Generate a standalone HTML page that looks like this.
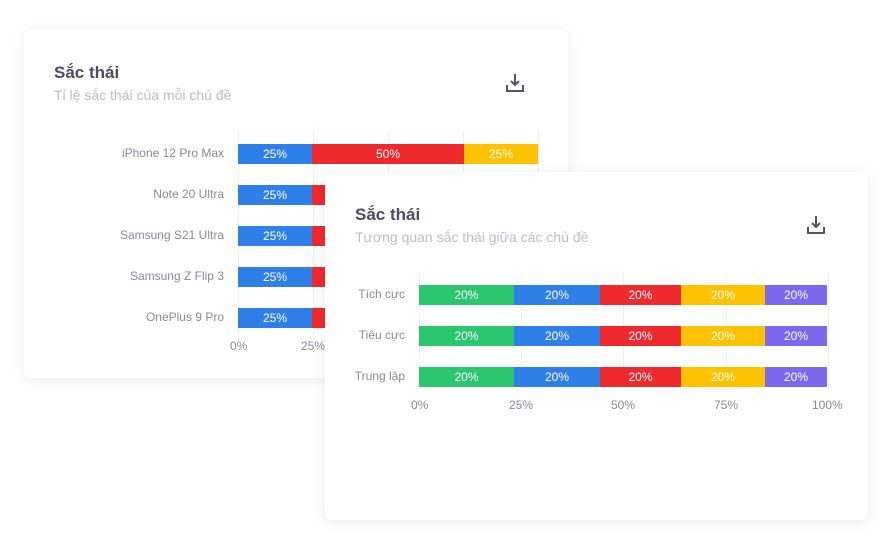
<!DOCTYPE html>
<html><head><meta charset="utf-8"><style>
body{margin:0;width:893px;height:550px;background:#fff;position:relative;overflow:hidden;font-family:"Liberation Sans",sans-serif}
.card{position:absolute;background:#fff;border-radius:6px;box-shadow:0 2px 14px rgba(0,0,0,0.08)}
.t{position:absolute;font-size:17px;font-weight:bold;color:#4d4a63}
.s{position:absolute;font-size:14px;color:#bdbcc8}
.a{position:absolute;font-size:12px;color:#8a8996;white-space:nowrap}
.seg{position:absolute;height:20px;color:#fff;font-size:12px;line-height:20px;text-align:center}
.g{position:absolute;width:1px;background:#eeeef0}
</style></head><body>
<div class="card" style="left:24px;top:30px;width:544px;height:348px"></div>
<div class="t" style="left:54px;top:63px">Sắc thái</div>
<div class="s" style="left:54px;top:87px">Tỉ lệ sắc thái của mỗi chủ đề</div>
<svg style="position:absolute;left:505px;top:73px" width="20" height="20" viewBox="0 0 20 20" fill="none" stroke="#55536a" stroke-width="2"><path d="M10 1v11M6 8l4 4 4-4M2 12v6h16v-6"/></svg>
<div class="g" style="left:238px;top:132px;height:202px"></div>
<div class="g" style="left:313px;top:132px;height:202px"></div>
<div class="g" style="left:388px;top:132px;height:202px"></div>
<div class="g" style="left:463px;top:132px;height:202px"></div>
<div class="g" style="left:538px;top:132px;height:202px"></div>
<div class="a" style="right:669px;top:146px">iPhone 12 Pro Max</div>
<div class="a" style="right:669px;top:187px">Note 20 Ultra</div>
<div class="a" style="right:669px;top:228px">Samsung S21 Ultra</div>
<div class="a" style="right:669px;top:269px">Samsung Z Flip 3</div>
<div class="a" style="right:669px;top:310px">OnePlus 9 Pro</div>
<div class="seg" style="left:238px;top:144px;width:74px;background:#2f7fe8">25%</div>
<div class="seg" style="left:312px;top:144px;width:152px;background:#ee2a2e">50%</div>
<div class="seg" style="left:464px;top:144px;width:74px;background:#fec200">25%</div>
<div class="seg" style="left:238px;top:185px;width:74px;background:#2f7fe8">25%</div>
<div class="seg" style="left:312px;top:185px;width:30px;background:#ee2a2e"></div>
<div class="seg" style="left:238px;top:226px;width:74px;background:#2f7fe8">25%</div>
<div class="seg" style="left:312px;top:226px;width:30px;background:#ee2a2e"></div>
<div class="seg" style="left:238px;top:267px;width:74px;background:#2f7fe8">25%</div>
<div class="seg" style="left:312px;top:267px;width:30px;background:#ee2a2e"></div>
<div class="seg" style="left:238px;top:308px;width:74px;background:#2f7fe8">25%</div>
<div class="seg" style="left:312px;top:308px;width:30px;background:#ee2a2e"></div>
<div class="a" style="left:230px;top:339px">0%</div>
<div class="a" style="left:301px;top:339px">25%</div>

<div class="card" style="left:325px;top:172px;width:543px;height:348px"></div>
<div class="t" style="left:355px;top:205px">Sắc thái</div>
<div class="s" style="left:355px;top:229px">Tương quan sắc thái giữa các chủ đề</div>
<svg style="position:absolute;left:806px;top:215px" width="20" height="20" viewBox="0 0 20 20" fill="none" stroke="#55536a" stroke-width="2"><path d="M10 1v11M6 8l4 4 4-4M2 12v6h16v-6"/></svg>
<div class="g" style="left:419px;top:273px;height:116px"></div>
<div class="g" style="left:521px;top:273px;height:116px"></div>
<div class="g" style="left:623px;top:273px;height:116px"></div>
<div class="g" style="left:726px;top:273px;height:116px"></div>
<div class="g" style="left:828px;top:273px;height:116px"></div>
<div class="a" style="right:488px;top:287px">Tích cực</div>
<div class="a" style="right:488px;top:328px">Tiêu cực</div>
<div class="a" style="right:488px;top:369px">Trung lập</div>
<div style="position:absolute;left:0;top:285px">
<div class="seg" style="left:419px;width:95px;background:#2bc76f">20%</div><div class="seg" style="left:514px;width:86px;background:#2f7fe8">20%</div><div class="seg" style="left:600px;width:81px;background:#ee2a2e">20%</div><div class="seg" style="left:681px;width:84px;background:#fec200">20%</div><div class="seg" style="left:765px;width:62px;background:#7c68ee">20%</div></div>
<div style="position:absolute;left:0;top:326px">
<div class="seg" style="left:419px;width:95px;background:#2bc76f">20%</div><div class="seg" style="left:514px;width:86px;background:#2f7fe8">20%</div><div class="seg" style="left:600px;width:81px;background:#ee2a2e">20%</div><div class="seg" style="left:681px;width:84px;background:#fec200">20%</div><div class="seg" style="left:765px;width:62px;background:#7c68ee">20%</div></div>
<div style="position:absolute;left:0;top:367px">
<div class="seg" style="left:419px;width:95px;background:#2bc76f">20%</div><div class="seg" style="left:514px;width:86px;background:#2f7fe8">20%</div><div class="seg" style="left:600px;width:81px;background:#ee2a2e">20%</div><div class="seg" style="left:681px;width:84px;background:#fec200">20%</div><div class="seg" style="left:765px;width:62px;background:#7c68ee">20%</div></div>
<div class="a" style="left:411px;top:398px">0%</div>
<div class="a" style="left:509px;top:398px">25%</div>
<div class="a" style="left:611px;top:398px">50%</div>
<div class="a" style="left:714px;top:398px">75%</div>
<div class="a" style="left:812px;top:398px">100%</div>
</body></html>
